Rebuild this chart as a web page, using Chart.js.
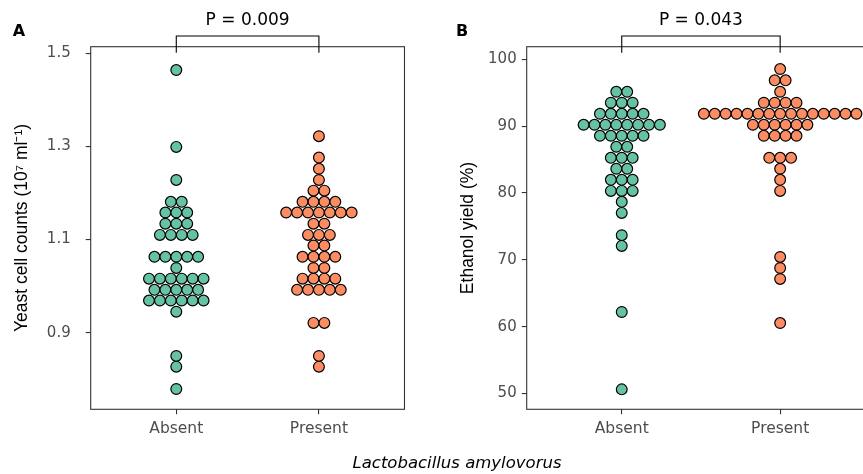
<!DOCTYPE html>
<html>
<head>
<meta charset="utf-8">
<script src="https://cdn.jsdelivr.net/npm/chart.js@4.4.1/dist/chart.umd.min.js"></script>
<style>
  body { margin: 0; width: 863px; height: 474px; overflow: hidden; position: relative; background: #fff; }
  canvas { position: absolute; top: 0; }
  #panelA { left: 0; }
  #panelB { left: 440px; }
  #xtitle { position: absolute; left: 0; top: 455px; width: 914px; text-align: center;
            font: oblique 16.5px 'DejaVu Sans'; line-height: 16.5px; color: #000; }
</style>
</head>
<body>
<canvas id="panelA" width="440" height="474"></canvas>
<canvas id="panelB" width="450" height="474"></canvas>
<div id="xtitle">Lactobacillus amylovorus</div>
<script>
const categories = ['Absent', 'Present'];

// yeast cell counts (10^7 / ml), one value per dot
const yeastAbsent = [1.464, 1.299, 1.228, 1.181, 1.181, 1.158, 1.158, 1.158,
  1.134, 1.134, 1.134, 1.110, 1.110, 1.110, 1.110,
  1.063, 1.063, 1.063, 1.063, 1.063, 1.039,
  1.016, 1.016, 1.016, 1.016, 1.016, 1.016,
  0.992, 0.992, 0.992, 0.992, 0.992,
  0.969, 0.969, 0.969, 0.969, 0.969, 0.969,
  0.945, 0.850, 0.827, 0.779];
const yeastPresent = [1.322, 1.276, 1.252, 1.228, 1.205, 1.205,
  1.181, 1.181, 1.181, 1.181,
  1.158, 1.158, 1.158, 1.158, 1.158, 1.158, 1.158,
  1.134, 1.134, 1.110, 1.110, 1.110, 1.087, 1.087,
  1.063, 1.063, 1.063, 1.063, 1.039, 1.039,
  1.016, 1.016, 1.016, 1.016,
  0.992, 0.992, 0.992, 0.992, 0.992,
  0.921, 0.921, 0.850, 0.827];

// ethanol yield (%)
const ethanolAbsent = [95.13, 95.13, 93.49, 93.49, 93.49,
  91.84, 91.84, 91.84, 91.84, 91.84,
  90.19, 90.19, 90.19, 90.19, 90.19, 90.19, 90.19, 90.19,
  88.55, 88.55, 88.55, 88.55, 88.55, 86.90, 86.90,
  85.25, 85.25, 85.25, 83.61, 83.61, 81.96, 81.96, 81.96,
  80.31, 80.31, 80.31, 78.67, 77.02, 73.68, 72.08, 62.20, 50.63];
const ethanolPresent = [98.53, 96.84, 96.84, 95.13, 93.49, 93.49, 93.49, 93.49,
  91.84, 91.84, 91.84, 91.84, 91.84, 91.84, 91.84, 91.84,
  91.84, 91.84, 91.84, 91.84, 91.84, 91.84, 91.84,
  90.19, 90.19, 90.19, 90.19, 90.19, 90.19,
  88.55, 88.55, 88.55, 88.55, 85.25, 85.25, 85.25,
  83.61, 81.96, 80.31, 70.43, 68.78, 67.14, 60.55];

const yeastTicks = [0.9, 1.1, 1.3, 1.5];
const ethanolTicks = [50, 60, 70, 80, 90, 100];
const pLabels = ['P = 0.009', 'P = 0.043'];

const colors = ['#66C2A5', '#FC8D62'];

// centred dot stacking, like geom_dotplot(stackdir = "center")
function stack(values, cat, step) {
  const total = {}, seen = {};
  values.forEach(v => { total[v] = (total[v] || 0) + 1; });
  return values.map(v => {
    const k = seen[v] || 0;
    seen[v] = k + 1;
    return { x: cat + (k - (total[v] - 1) / 2) * step, y: v };
  });
}

const panelDecor = {
  id: 'panelDecor',
  afterDraw(chart, args, o) {
    const ctx = chart.ctx, a = chart.chartArea, x = chart.scales.x;
    ctx.save();
    ctx.strokeStyle = '#333333';
    ctx.lineWidth = 1.1;
    ctx.strokeRect(a.left, a.top, a.right - a.left, a.bottom - a.top);

    const x0 = x.getPixelForValue(0), x1 = x.getPixelForValue(1);
    const top = a.top - 10.7, leg = a.top + 6;
    ctx.strokeStyle = '#000';
    ctx.lineWidth = 1.1;
    ctx.beginPath();
    ctx.moveTo(x0, leg); ctx.lineTo(x0, top); ctx.lineTo(x1, top); ctx.lineTo(x1, leg);
    ctx.stroke();

    ctx.fillStyle = '#000';
    ctx.textAlign = 'center';
    ctx.textBaseline = 'alphabetic';
    ctx.font = "17px 'DejaVu Sans'";
    ctx.fillText(o.p, (x0 + x1) / 2, 25);

    ctx.textAlign = 'left';
    ctx.font = "bold 16px 'DejaVu Sans'";
    ctx.fillText(o.tag, a.left + o.tagX, 36);
    ctx.restore();
  }
};

function makePanel(id, absent, present, ticks, p) {
  new Chart(document.getElementById(id), {
    type: 'scatter',
    data: {
      datasets: [absent, present].map((vals, i) => ({
        label: categories[i],
        data: stack(vals, i, p.step),
        backgroundColor: colors[i],
        borderColor: '#000',
        borderWidth: 1.2,
        pointRadius: 5.4,
        pointHoverRadius: 5.4
      }))
    },
    options: {
      responsive: false,
      animation: false,
      events: [],
      layout: { padding: { left: 4, top: 46.7, right: p.right, bottom: 0 } },
      plugins: {
        legend: { display: false },
        tooltip: { enabled: false },
        panelDecor: { p: p.label, tag: p.tag, tagX: p.tagX }
      },
      scales: {
        x: {
          type: 'linear', min: -0.6, max: 1.6,
          afterBuildTicks: s => { s.ticks = categories.map((c, i) => ({ value: i })); },
          afterFit: s => { s.height = 474 - 409.3; },
          border: { display: false },
          grid: { drawOnChartArea: false, drawTicks: true, tickLength: 5, color: '#333333', lineWidth: 1.1 },
          ticks: {
            padding: 5, color: '#4D4D4D', font: { family: 'DejaVu Sans', size: 15.5 },
            callback: v => categories[v]
          }
        },
        y: {
          min: p.min, max: p.max,
          afterBuildTicks: s => { s.ticks = ticks.map(v => ({ value: v })); },
          afterFit: s => { s.width = p.yWidth; },
          border: { display: false },
          grid: { drawOnChartArea: false, drawTicks: true, tickLength: 5, color: '#333333', lineWidth: 1.1 },
          ticks: {
            padding: p.tickPad, color: '#4D4D4D', font: { family: 'DejaVu Sans', size: 15 },
            callback: v => p.fmt(v)
          },
          title: {
            display: true, text: p.title, color: '#000',
            font: { family: 'Liberation Sans', size: 17.5 },
            padding: { top: p.titlePad, bottom: 0 }
          }
        }
      }
    },
    plugins: [panelDecor]
  });
}

makePanel('panelA', yeastAbsent, yeastPresent, yeastTicks, {
  step: 0.0765, right: 35.5, min: 0.7354, max: 1.5142, yWidth: 86.7, tickPad: 15,
  titlePad: 8, title: 'Yeast cell counts (10\u2077 ml\u207B\u00B9)', fmt: v => v.toFixed(1),
  label: pLabels[0], tag: 'A', tagX: -78
});
makePanel('panelB', ethanolAbsent, ethanolPresent, ethanolTicks, {
  step: 0.0688, right: 14.8, min: 47.65, max: 101.87, yWidth: 82.7, tickPad: 5,
  titlePad: 13.8, title: 'Ethanol yield (%)', fmt: v => String(v),
  label: pLabels[1], tag: 'B', tagX: -70.7
});
</script>
</body>
</html>
